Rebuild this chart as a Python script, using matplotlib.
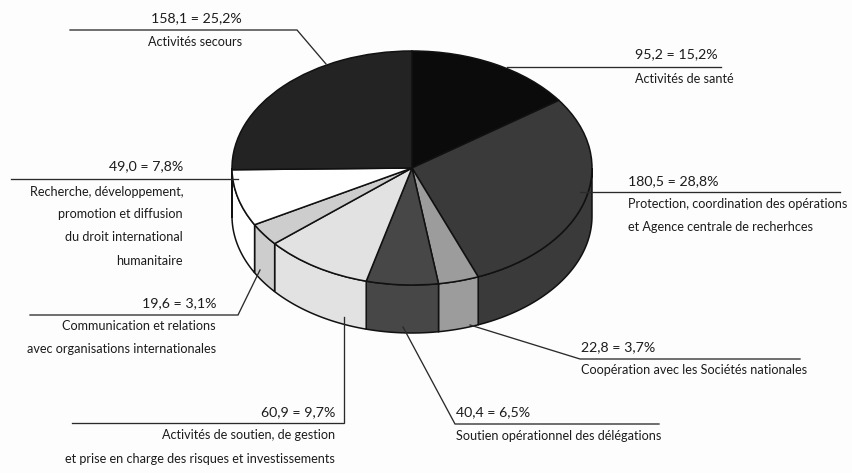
import numpy as np
import matplotlib
matplotlib.use("Agg")
import matplotlib.pyplot as plt
from matplotlib.patches import Polygon

values = [95.2, 180.5, 22.8, 40.4, 60.9, 19.6, 49.0, 158.1]
percents = ["15,2%", "28,8%", "3,7%", "6,5%", "9,7%", "3,1%", "7,8%", "25,2%"]
value_labels = ["95,2", "180,5", "22,8", "40,4", "60,9", "19,6", "49,0", "158,1"]
categories = [
    ["Activités de santé"],
    ["Protection, coordination des opérations", "et Agence centrale de recherhces"],
    ["Coopération avec les Sociétés nationales"],
    ["Soutien opérationnel des délégations"],
    ["Activités de soutien, de gestion", "et prise en charge des risques et investissements"],
    ["Communication et relations", "avec organisations internationales"],
    ["Recherche, développement,", "promotion et diffusion", "du droit international", "humanitaire"],
    ["Activités secours"],
]
colors = ["#0b0b0b", "#3a3a3a", "#9c9c9c", "#474747", "#e2e2e2", "#cdcdcd", "#ffffff", "#232323"]

W, H = 852, 473
CX, CY, RX, RY, DEPTH = 412, 168, 180, 117, 48
FONT = ["Lato", "DejaVu Sans"]
INK = "#1c1c1c"

fig = plt.figure(figsize=(W / 100, H / 100), dpi=100, facecolor="#fdfdfd")
ax = fig.add_axes([(CX - RX) / W, 1 - (CY + RY) / H, 2 * RX / W, 2 * RY / H])
wedges, _ = ax.pie(values, colors=colors, startangle=90, counterclock=False, radius=1,
                   wedgeprops=dict(edgecolor="#111111", linewidth=1.1))
for w in wedges:
    w.set_zorder(5)
ax.set_xlim(-1, 1)
ax.set_ylim(-1, 1)
ax.set_aspect("auto")

# extruded side wall of the lower half
d = DEPTH / RY
for w, col in zip(wedges, colors):
    if w.theta2 - w.theta1 > 180:
        continue
    a0, a1 = w.theta1 % 360, w.theta2 % 360
    if a0 > a1:
        a1 += 360
    lo, hi = max(a0, 180), min(a1, 360)
    if lo >= hi:
        continue
    t = np.radians(np.linspace(lo, hi, 80))
    x, y = np.cos(t), np.sin(t)
    pts = np.r_[np.c_[x, y], np.c_[x[::-1], y[::-1] - d]]
    ax.add_patch(Polygon(pts, closed=True, facecolor=col, edgecolor="#111111",
                         linewidth=1.1, clip_on=False, zorder=3))

# overlay in reference pixels for the callouts
ov = fig.add_axes([0, 0, 1, 1], facecolor="none")
ov.set_xlim(0, W)
ov.set_ylim(H, 0)
ov.axis("off")

# per slice: anchor side, text x, value y, label ys, leader path
callouts = [
    ("left", 635, 54, [79], [(507, 67), (721, 67)]),
    ("left", 628, 181, [204, 227], [(580, 192), (840, 192)]),
    ("left", 581, 347, [370], [(470, 325), (580, 359), (800, 359)]),
    ("left", 456, 412, [436], [(403, 327), (455, 424), (659, 424)]),
    ("right", 335, 412, [435, 459], [(344, 317), (344, 423), (72, 423)]),
    ("right", 216, 303, [326, 349], [(260, 270), (238, 315), (30, 315)]),
    ("right", 183, 166, [192, 214, 237, 261], [(238, 179), (11, 179)]),
    ("right", 242, 18, [42], [(326, 64), (297, 30), (70, 30)]),
]
for i, (ha, tx, vy, lys, path) in enumerate(callouts):
    xs, ys = zip(*path)
    ov.plot(xs, ys, color="#2a2a2a", lw=0.95, solid_joinstyle="miter", zorder=10)
    ov.text(tx, vy, f"{value_labels[i]} = {percents[i]}", ha=ha, va="center",
            fontsize=10.2, family=FONT, color=INK)
    for ly, line in zip(lys, categories[i]):
        ov.text(tx, ly, line, ha=ha, va="center", fontsize=9.1, family=FONT, color=INK)

fig.savefig("out.png", dpi=100, facecolor=fig.get_facecolor())
